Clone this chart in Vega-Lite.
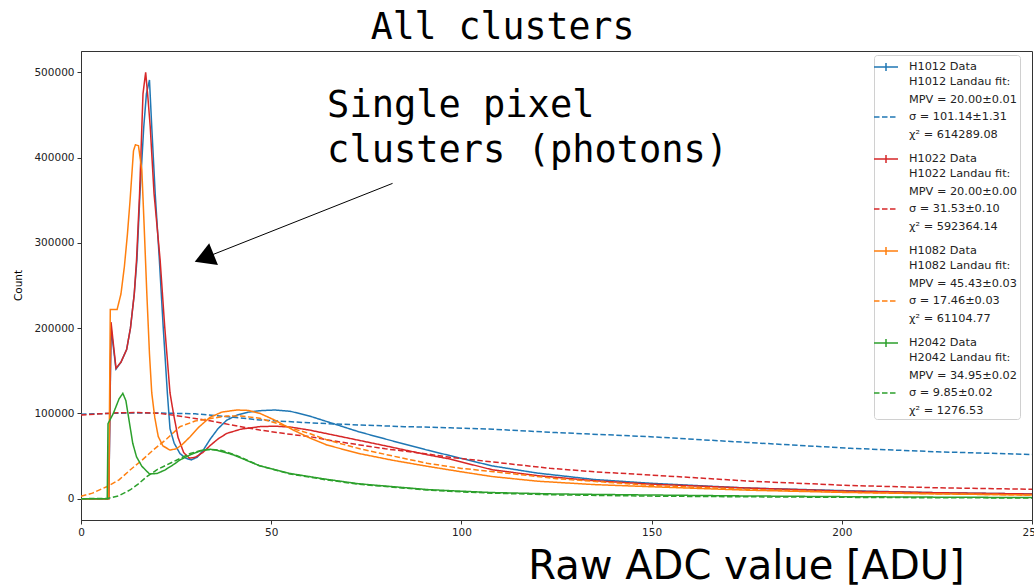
{
  "$schema": "https://vega.github.io/schema/vega-lite/v6.json",
  "autosize": {"type": "none"},
  "padding": {"left": 81, "top": 51, "right": 2, "bottom": 67},
  "width": 951,
  "height": 469,
  "background": "white",
  "title": {"text": "All clusters", "font": "DejaVu Sans Mono", "fontSize": 36.5, "fontWeight": "normal", "color": "#000", "anchor": "middle", "dx": -54, "baseline": "alphabetic", "offset": -24},
  "datasets": {
    "curves": [
      {"s": "H1012 Data", "x": 0, "y": 0}, {"s": "H1012 Data", "x": 7.3, "y": 0}, {"s": "H1012 Data", "x": 7.9, "y": 200000}, {"s": "H1012 Data", "x": 9.2, "y": 152000}, {"s": "H1012 Data", "x": 10.5, "y": 160000}, {"s": "H1012 Data", "x": 12, "y": 175000}, {"s": "H1012 Data", "x": 13, "y": 200000}, {"s": "H1012 Data", "x": 14, "y": 240000}, {"s": "H1012 Data", "x": 14.7, "y": 280000}, {"s": "H1012 Data", "x": 15.5, "y": 358000}, {"s": "H1012 Data", "x": 16.5, "y": 436000}, {"s": "H1012 Data", "x": 17.2, "y": 475000}, {"s": "H1012 Data", "x": 18, "y": 491000}, {"s": "H1012 Data", "x": 18.6, "y": 436000}, {"s": "H1012 Data", "x": 19.5, "y": 358000}, {"s": "H1012 Data", "x": 20.6, "y": 280000}, {"s": "H1012 Data", "x": 21.6, "y": 202000}, {"s": "H1012 Data", "x": 22.7, "y": 124000}, {"s": "H1012 Data", "x": 23.4, "y": 82000}, {"s": "H1012 Data", "x": 24.5, "y": 65000}, {"s": "H1012 Data", "x": 26, "y": 53000}, {"s": "H1012 Data", "x": 27.5, "y": 47500}, {"s": "H1012 Data", "x": 29, "y": 45500}, {"s": "H1012 Data", "x": 30.5, "y": 48500}, {"s": "H1012 Data", "x": 32, "y": 56000}, {"s": "H1012 Data", "x": 34, "y": 70000}, {"s": "H1012 Data", "x": 36, "y": 82000}, {"s": "H1012 Data", "x": 38.3, "y": 92000}, {"s": "H1012 Data", "x": 41, "y": 98000}, {"s": "H1012 Data", "x": 44, "y": 101500}, {"s": "H1012 Data", "x": 47, "y": 103200}, {"s": "H1012 Data", "x": 51, "y": 104000}, {"s": "H1012 Data", "x": 55, "y": 102500}, {"s": "H1012 Data", "x": 60, "y": 97000}, {"s": "H1012 Data", "x": 66, "y": 88500}, {"s": "H1012 Data", "x": 73, "y": 78500}, {"s": "H1012 Data", "x": 80, "y": 70000}, {"s": "H1012 Data", "x": 91, "y": 57000}, {"s": "H1012 Data", "x": 97, "y": 50500}, {"s": "H1012 Data", "x": 108, "y": 38500}, {"s": "H1012 Data", "x": 120, "y": 30000}, {"s": "H1012 Data", "x": 135, "y": 22500}, {"s": "H1012 Data", "x": 150, "y": 18000}, {"s": "H1012 Data", "x": 175, "y": 12500}, {"s": "H1012 Data", "x": 200, "y": 9500}, {"s": "H1012 Data", "x": 225, "y": 7000}, {"s": "H1012 Data", "x": 250, "y": 5500},

      {"s": "H1012 fit", "x": 0, "y": 99000}, {"s": "H1012 fit", "x": 10, "y": 100300}, {"s": "H1012 fit", "x": 20, "y": 100500}, {"s": "H1012 fit", "x": 30, "y": 99500}, {"s": "H1012 fit", "x": 40, "y": 95500}, {"s": "H1012 fit", "x": 47, "y": 92300}, {"s": "H1012 fit", "x": 60, "y": 89000}, {"s": "H1012 fit", "x": 73.3, "y": 86400}, {"s": "H1012 fit", "x": 85, "y": 84500}, {"s": "H1012 fit", "x": 97, "y": 83200}, {"s": "H1012 fit", "x": 108.4, "y": 81400}, {"s": "H1012 fit", "x": 125, "y": 77500}, {"s": "H1012 fit", "x": 149.6, "y": 72700}, {"s": "H1012 fit", "x": 175, "y": 66000}, {"s": "H1012 fit", "x": 202.2, "y": 59100}, {"s": "H1012 fit", "x": 225, "y": 55000}, {"s": "H1012 fit", "x": 250, "y": 51800},

      {"s": "H1022 Data", "x": 0, "y": 0}, {"s": "H1022 Data", "x": 7.3, "y": 0}, {"s": "H1022 Data", "x": 7.9, "y": 207000}, {"s": "H1022 Data", "x": 9.2, "y": 153000}, {"s": "H1022 Data", "x": 10.5, "y": 160000}, {"s": "H1022 Data", "x": 12, "y": 175000}, {"s": "H1022 Data", "x": 13, "y": 200000}, {"s": "H1022 Data", "x": 14, "y": 240000}, {"s": "H1022 Data", "x": 14.6, "y": 280000}, {"s": "H1022 Data", "x": 15.4, "y": 358000}, {"s": "H1022 Data", "x": 16, "y": 436000}, {"s": "H1022 Data", "x": 16.3, "y": 475000}, {"s": "H1022 Data", "x": 17, "y": 500000}, {"s": "H1022 Data", "x": 17.6, "y": 470000}, {"s": "H1022 Data", "x": 18.2, "y": 436000}, {"s": "H1022 Data", "x": 19.2, "y": 358000}, {"s": "H1022 Data", "x": 20.8, "y": 280000}, {"s": "H1022 Data", "x": 22, "y": 202000}, {"s": "H1022 Data", "x": 23.4, "y": 124000}, {"s": "H1022 Data", "x": 24.3, "y": 100000}, {"s": "H1022 Data", "x": 25.5, "y": 72000}, {"s": "H1022 Data", "x": 27, "y": 54000}, {"s": "H1022 Data", "x": 28.5, "y": 47500}, {"s": "H1022 Data", "x": 30, "y": 48500}, {"s": "H1022 Data", "x": 32, "y": 54000}, {"s": "H1022 Data", "x": 34, "y": 62500}, {"s": "H1022 Data", "x": 36, "y": 70000}, {"s": "H1022 Data", "x": 38.3, "y": 76500}, {"s": "H1022 Data", "x": 42, "y": 81500}, {"s": "H1022 Data", "x": 47, "y": 84500}, {"s": "H1022 Data", "x": 51, "y": 85000}, {"s": "H1022 Data", "x": 55, "y": 84000}, {"s": "H1022 Data", "x": 60, "y": 80500}, {"s": "H1022 Data", "x": 66, "y": 75000}, {"s": "H1022 Data", "x": 73, "y": 68500}, {"s": "H1022 Data", "x": 80, "y": 62000}, {"s": "H1022 Data", "x": 91, "y": 51500}, {"s": "H1022 Data", "x": 97, "y": 46500}, {"s": "H1022 Data", "x": 108, "y": 34000}, {"s": "H1022 Data", "x": 120, "y": 27000}, {"s": "H1022 Data", "x": 135, "y": 21000}, {"s": "H1022 Data", "x": 150, "y": 17000}, {"s": "H1022 Data", "x": 175, "y": 12500}, {"s": "H1022 Data", "x": 200, "y": 9000}, {"s": "H1022 Data", "x": 225, "y": 7000}, {"s": "H1022 Data", "x": 250, "y": 5500},

      {"s": "H1022 fit", "x": 0, "y": 98000}, {"s": "H1022 fit", "x": 5, "y": 99500}, {"s": "H1022 fit", "x": 10, "y": 100800}, {"s": "H1022 fit", "x": 15, "y": 101000}, {"s": "H1022 fit", "x": 20, "y": 100300}, {"s": "H1022 fit", "x": 25, "y": 97500}, {"s": "H1022 fit", "x": 30, "y": 94000}, {"s": "H1022 fit", "x": 33.9, "y": 91400}, {"s": "H1022 fit", "x": 40, "y": 86000}, {"s": "H1022 fit", "x": 47, "y": 80500}, {"s": "H1022 fit", "x": 55, "y": 75500}, {"s": "H1022 fit", "x": 60.2, "y": 72700}, {"s": "H1022 fit", "x": 66, "y": 68000}, {"s": "H1022 fit", "x": 73.3, "y": 63000}, {"s": "H1022 fit", "x": 80, "y": 58500}, {"s": "H1022 fit", "x": 90.9, "y": 52500}, {"s": "H1022 fit", "x": 97, "y": 48500}, {"s": "H1022 fit", "x": 108.4, "y": 43000}, {"s": "H1022 fit", "x": 123.3, "y": 35600}, {"s": "H1022 fit", "x": 135, "y": 31500}, {"s": "H1022 fit", "x": 149.6, "y": 27800}, {"s": "H1022 fit", "x": 176, "y": 20500}, {"s": "H1022 fit", "x": 202, "y": 15500}, {"s": "H1022 fit", "x": 225, "y": 12800}, {"s": "H1022 fit", "x": 250, "y": 11000},

      {"s": "H1082 Data", "x": 0, "y": 0}, {"s": "H1082 Data", "x": 7.3, "y": 0}, {"s": "H1082 Data", "x": 7.7, "y": 222000}, {"s": "H1082 Data", "x": 9.5, "y": 222000}, {"s": "H1082 Data", "x": 10.5, "y": 240000}, {"s": "H1082 Data", "x": 11.4, "y": 272000}, {"s": "H1082 Data", "x": 12.2, "y": 310000}, {"s": "H1082 Data", "x": 12.9, "y": 350000}, {"s": "H1082 Data", "x": 13.8, "y": 408000}, {"s": "H1082 Data", "x": 14.3, "y": 415000}, {"s": "H1082 Data", "x": 15.1, "y": 414000}, {"s": "H1082 Data", "x": 16, "y": 385000}, {"s": "H1082 Data", "x": 16.6, "y": 320000}, {"s": "H1082 Data", "x": 17.3, "y": 241000}, {"s": "H1082 Data", "x": 18, "y": 170000}, {"s": "H1082 Data", "x": 18.6, "y": 124000}, {"s": "H1082 Data", "x": 19.4, "y": 95000}, {"s": "H1082 Data", "x": 20.3, "y": 73000}, {"s": "H1082 Data", "x": 21.5, "y": 62000}, {"s": "H1082 Data", "x": 23.4, "y": 57000}, {"s": "H1082 Data", "x": 25, "y": 58500}, {"s": "H1082 Data", "x": 26.5, "y": 63000}, {"s": "H1082 Data", "x": 28.7, "y": 72700}, {"s": "H1082 Data", "x": 31, "y": 84000}, {"s": "H1082 Data", "x": 33.9, "y": 95400}, {"s": "H1082 Data", "x": 37, "y": 101500}, {"s": "H1082 Data", "x": 40.9, "y": 104000}, {"s": "H1082 Data", "x": 44, "y": 103500}, {"s": "H1082 Data", "x": 47, "y": 100100}, {"s": "H1082 Data", "x": 51, "y": 92000}, {"s": "H1082 Data", "x": 55.8, "y": 80500}, {"s": "H1082 Data", "x": 60, "y": 71500}, {"s": "H1082 Data", "x": 64.6, "y": 63000}, {"s": "H1082 Data", "x": 73, "y": 53000}, {"s": "H1082 Data", "x": 82, "y": 45000}, {"s": "H1082 Data", "x": 91, "y": 38000}, {"s": "H1082 Data", "x": 100, "y": 31500}, {"s": "H1082 Data", "x": 108, "y": 26000}, {"s": "H1082 Data", "x": 120, "y": 20500}, {"s": "H1082 Data", "x": 135, "y": 16500}, {"s": "H1082 Data", "x": 150, "y": 14000}, {"s": "H1082 Data", "x": 175, "y": 10000}, {"s": "H1082 Data", "x": 200, "y": 7400}, {"s": "H1082 Data", "x": 225, "y": 5600}, {"s": "H1082 Data", "x": 250, "y": 4300},

      {"s": "H1082 fit", "x": 0, "y": 2800}, {"s": "H1082 fit", "x": 3, "y": 6500}, {"s": "H1082 fit", "x": 6.75, "y": 14000}, {"s": "H1082 fit", "x": 10, "y": 22000}, {"s": "H1082 fit", "x": 12.9, "y": 33600}, {"s": "H1082 fit", "x": 16, "y": 45000}, {"s": "H1082 fit", "x": 19, "y": 57100}, {"s": "H1082 fit", "x": 22.5, "y": 70000}, {"s": "H1082 fit", "x": 26, "y": 84400}, {"s": "H1082 fit", "x": 30, "y": 91000}, {"s": "H1082 fit", "x": 34.8, "y": 94500}, {"s": "H1082 fit", "x": 38.3, "y": 97000}, {"s": "H1082 fit", "x": 42, "y": 97000}, {"s": "H1082 fit", "x": 47, "y": 94200}, {"s": "H1082 fit", "x": 51, "y": 89000}, {"s": "H1082 fit", "x": 55.8, "y": 82000}, {"s": "H1082 fit", "x": 60, "y": 76500}, {"s": "H1082 fit", "x": 64.6, "y": 69000}, {"s": "H1082 fit", "x": 73.3, "y": 58500}, {"s": "H1082 fit", "x": 82, "y": 50000}, {"s": "H1082 fit", "x": 91, "y": 41500}, {"s": "H1082 fit", "x": 100, "y": 35500}, {"s": "H1082 fit", "x": 108.4, "y": 31700}, {"s": "H1082 fit", "x": 125, "y": 23500}, {"s": "H1082 fit", "x": 150, "y": 15500}, {"s": "H1082 fit", "x": 175, "y": 11000}, {"s": "H1082 fit", "x": 200, "y": 7800}, {"s": "H1082 fit", "x": 225, "y": 5800}, {"s": "H1082 fit", "x": 250, "y": 4300},

      {"s": "H2042 Data", "x": 0, "y": 0}, {"s": "H2042 Data", "x": 6.9, "y": 0}, {"s": "H2042 Data", "x": 7.1, "y": 88000}, {"s": "H2042 Data", "x": 8.5, "y": 100000}, {"s": "H2042 Data", "x": 10, "y": 117000}, {"s": "H2042 Data", "x": 11, "y": 123500}, {"s": "H2042 Data", "x": 11.8, "y": 115000}, {"s": "H2042 Data", "x": 12.7, "y": 90000}, {"s": "H2042 Data", "x": 13.6, "y": 65000}, {"s": "H2042 Data", "x": 14.6, "y": 49000}, {"s": "H2042 Data", "x": 16, "y": 38000}, {"s": "H2042 Data", "x": 18, "y": 29000}, {"s": "H2042 Data", "x": 20, "y": 29500}, {"s": "H2042 Data", "x": 22, "y": 33500}, {"s": "H2042 Data", "x": 24.5, "y": 40500}, {"s": "H2042 Data", "x": 26, "y": 45400}, {"s": "H2042 Data", "x": 29, "y": 52000}, {"s": "H2042 Data", "x": 32, "y": 57000}, {"s": "H2042 Data", "x": 34, "y": 57900}, {"s": "H2042 Data", "x": 36, "y": 56500}, {"s": "H2042 Data", "x": 40, "y": 51500}, {"s": "H2042 Data", "x": 47, "y": 38500}, {"s": "H2042 Data", "x": 55, "y": 29500}, {"s": "H2042 Data", "x": 64.6, "y": 22700}, {"s": "H2042 Data", "x": 73, "y": 17500}, {"s": "H2042 Data", "x": 82, "y": 14100}, {"s": "H2042 Data", "x": 91, "y": 10700}, {"s": "H2042 Data", "x": 97, "y": 9400}, {"s": "H2042 Data", "x": 108, "y": 7200}, {"s": "H2042 Data", "x": 125, "y": 5500}, {"s": "H2042 Data", "x": 150, "y": 4300}, {"s": "H2042 Data", "x": 175, "y": 3200}, {"s": "H2042 Data", "x": 200, "y": 2400}, {"s": "H2042 Data", "x": 225, "y": 1800}, {"s": "H2042 Data", "x": 250, "y": 1300},

      {"s": "H2042 fit", "x": 0, "y": 0}, {"s": "H2042 fit", "x": 7, "y": 300}, {"s": "H2042 fit", "x": 10, "y": 3500}, {"s": "H2042 fit", "x": 12.9, "y": 10200}, {"s": "H2042 fit", "x": 15, "y": 17000}, {"s": "H2042 fit", "x": 17.3, "y": 25800}, {"s": "H2042 fit", "x": 20, "y": 34000}, {"s": "H2042 fit", "x": 22.5, "y": 39500}, {"s": "H2042 fit", "x": 25.5, "y": 46000}, {"s": "H2042 fit", "x": 28.7, "y": 53000}, {"s": "H2042 fit", "x": 31.5, "y": 56500}, {"s": "H2042 fit", "x": 34, "y": 57800}, {"s": "H2042 fit", "x": 37, "y": 56500}, {"s": "H2042 fit", "x": 41, "y": 50500}, {"s": "H2042 fit", "x": 47, "y": 38500}, {"s": "H2042 fit", "x": 55, "y": 29000}, {"s": "H2042 fit", "x": 64.6, "y": 22000}, {"s": "H2042 fit", "x": 73, "y": 17000}, {"s": "H2042 fit", "x": 82, "y": 13500}, {"s": "H2042 fit", "x": 91, "y": 10200}, {"s": "H2042 fit", "x": 97, "y": 8600}, {"s": "H2042 fit", "x": 108, "y": 6500}, {"s": "H2042 fit", "x": 125, "y": 4500}, {"s": "H2042 fit", "x": 150, "y": 3000}, {"s": "H2042 fit", "x": 175, "y": 2200}, {"s": "H2042 fit", "x": 200, "y": 1600}, {"s": "H2042 fit", "x": 225, "y": 1100}, {"s": "H2042 fit", "x": 250, "y": 800}
    ],
    "note": [{"t": "Single pixel\nclusters (photons)", "x": 64.7, "y": 447500}],
    "arrow": [{"x": 81.9, "y": 369750, "x2": 33.2, "y2": 283700}]
  },
  "layer": [
    {
      "data": {"name": "curves"},
      "mark": {"type": "line", "strokeWidth": 1.5, "clip": true},
      "encoding": {
        "x": {"field": "x", "type": "quantitative", "scale": {"domain": [0, 250], "nice": false, "zero": false},
              "axis": {"values": [0, 50, 100, 150, 200, 250], "labelFlush": false, "title": "Raw ADC value [ADU]", "titleFontSize": 40, "titleX": 665, "titleY": 58, "titleAlign": "center", "titleBaseline": "alphabetic"}},
        "y": {"field": "y", "type": "quantitative", "scale": {"domain": [-25000, 525000], "nice": false, "zero": false},
              "axis": {"values": [0, 100000, 200000, 300000, 400000, 500000], "format": "d", "title": "Count", "titleFontSize": 10.5, "titleX": -63, "titleY": 234, "titleAlign": "center", "titleBaseline": "middle", "titleAngle": -90}},
        "color": {"field": "s", "type": "nominal",
                  "scale": {"domain": ["H1012 Data", "H1012 fit", "H1022 Data", "H1022 fit", "H1082 Data", "H1082 fit", "H2042 Data", "H2042 fit"],
                            "range": ["#1f77b4", "#1f77b4", "#d62728", "#d62728", "#ff7f0e", "#ff7f0e", "#2ca02c", "#2ca02c"]},
                  "legend": {"title": null, "orient": "none", "legendX": 793, "legendY": 4,
                    "labelExpr": "datum.label == 'H1012 fit' ? ['H1012 Landau fit:', 'MPV = 20.00±0.01', 'σ = 101.14±1.31', 'χ² = 614289.08'] : datum.label == 'H1022 fit' ? ['H1022 Landau fit:', 'MPV = 20.00±0.00', 'σ = 31.53±0.10', 'χ² = 592364.14'] : datum.label == 'H1082 fit' ? ['H1082 Landau fit:', 'MPV = 45.43±0.03', 'σ = 17.46±0.03', 'χ² = 61104.77'] : datum.label == 'H2042 fit' ? ['H2042 Landau fit:', 'MPV = 34.95±0.02', 'σ = 9.85±0.02', 'χ² = 1276.53'] : datum.label == 'H1012 Data' ? datum.label : ['', datum.label]",
                    "encode": {
                      "symbols": {"update": {"shape": {"signal": "indexof(datum.value, 'Data') >= 0 ? 'M-1.5,0H1.5M0,-0.5V0.5' : 'M-1.5,0H1.5'"}}},
                      "labels": {"update": {"lineHeight": {"signal": "indexof(datum.value, 'fit') >= 0 ? 17.5 : 11"}, "dy": {"signal": "indexof(datum.value, 'fit') >= 0 ? -35 : datum.value == 'H1012 Data' ? 0 : -11"}}}
                    }}},
        "strokeDash": {"field": "s", "type": "nominal",
                  "scale": {"domain": ["H1012 Data", "H1012 fit", "H1022 Data", "H1022 fit", "H1082 Data", "H1082 fit", "H2042 Data", "H2042 fit"],
                            "range": [[1, 0], [5.5, 2.5], [1, 0], [5.5, 2.5], [1, 0], [5.5, 2.5], [1, 0], [5.5, 2.5]]},
                  "legend": {"title": null, "orient": "none", "legendX": 793, "legendY": 4,
                    "labelExpr": "datum.label == 'H1012 fit' ? ['H1012 Landau fit:', 'MPV = 20.00±0.01', 'σ = 101.14±1.31', 'χ² = 614289.08'] : datum.label == 'H1022 fit' ? ['H1022 Landau fit:', 'MPV = 20.00±0.00', 'σ = 31.53±0.10', 'χ² = 592364.14'] : datum.label == 'H1082 fit' ? ['H1082 Landau fit:', 'MPV = 45.43±0.03', 'σ = 17.46±0.03', 'χ² = 61104.77'] : datum.label == 'H2042 fit' ? ['H2042 Landau fit:', 'MPV = 34.95±0.02', 'σ = 9.85±0.02', 'χ² = 1276.53'] : datum.label == 'H1012 Data' ? datum.label : ['', datum.label]",
                    "encode": {
                      "symbols": {"update": {"shape": {"signal": "indexof(datum.value, 'Data') >= 0 ? 'M-1.5,0H1.5M0,-0.5V0.5' : 'M-1.5,0H1.5'"}}},
                      "labels": {"update": {"lineHeight": {"signal": "indexof(datum.value, 'fit') >= 0 ? 17.5 : 11"}, "dy": {"signal": "indexof(datum.value, 'fit') >= 0 ? -35 : datum.value == 'H1012 Data' ? 0 : -11"}}}
                    }}}
      }
    },
    {
      "data": {"name": "note"},
      "mark": {"type": "text", "font": "DejaVu Sans Mono", "fontSize": 37, "align": "left", "baseline": "alphabetic", "lineBreak": "\n", "lineHeight": 45, "color": "#000"},
      "encoding": {
        "x": {"field": "x", "type": "quantitative"},
        "y": {"field": "y", "type": "quantitative"},
        "text": {"field": "t"}
      }
    },
    {
      "data": {"name": "arrow"},
      "mark": {"type": "rule", "color": "#000", "strokeWidth": 1},
      "encoding": {
        "x": {"field": "x", "type": "quantitative"},
        "y": {"field": "y", "type": "quantitative"},
        "x2": {"field": "x2"},
        "y2": {"field": "y2"}
      }
    },
    {
      "data": {"name": "arrow"},
      "mark": {"type": "point", "shape": "triangle", "filled": true, "color": "#000", "opacity": 1, "size": 550, "angle": 248},
      "encoding": {
        "x": {"field": "x2", "type": "quantitative"},
        "y": {"field": "y2", "type": "quantitative"}
      }
    }
  ],
  "config": {
    "view": {"stroke": "#333", "strokeWidth": 1},
    "axis": {"grid": false, "domainColor": "#333", "tickColor": "#333", "labelColor": "#222", "labelFont": "DejaVu Sans", "labelFontSize": 10.5, "tickSize": 4, "labelPadding": 3, "titleFont": "DejaVu Sans", "titleFontWeight": "normal", "titleColor": "#000"},
    "legend": {
      "labelFont": "DejaVu Sans", "labelFontSize": 11.3, "labelColor": "#222", "labelLimit": 0, "labelOffset": 14,
      "symbolSize": 256, "symbolStrokeWidth": 1.5, "symbolType": "stroke",
      "padding": 3, "rowPadding": 2, "cornerRadius": 3, "strokeColor": "#d0d0d0", "fillColor": "#ffffff"
    }
  }
}
